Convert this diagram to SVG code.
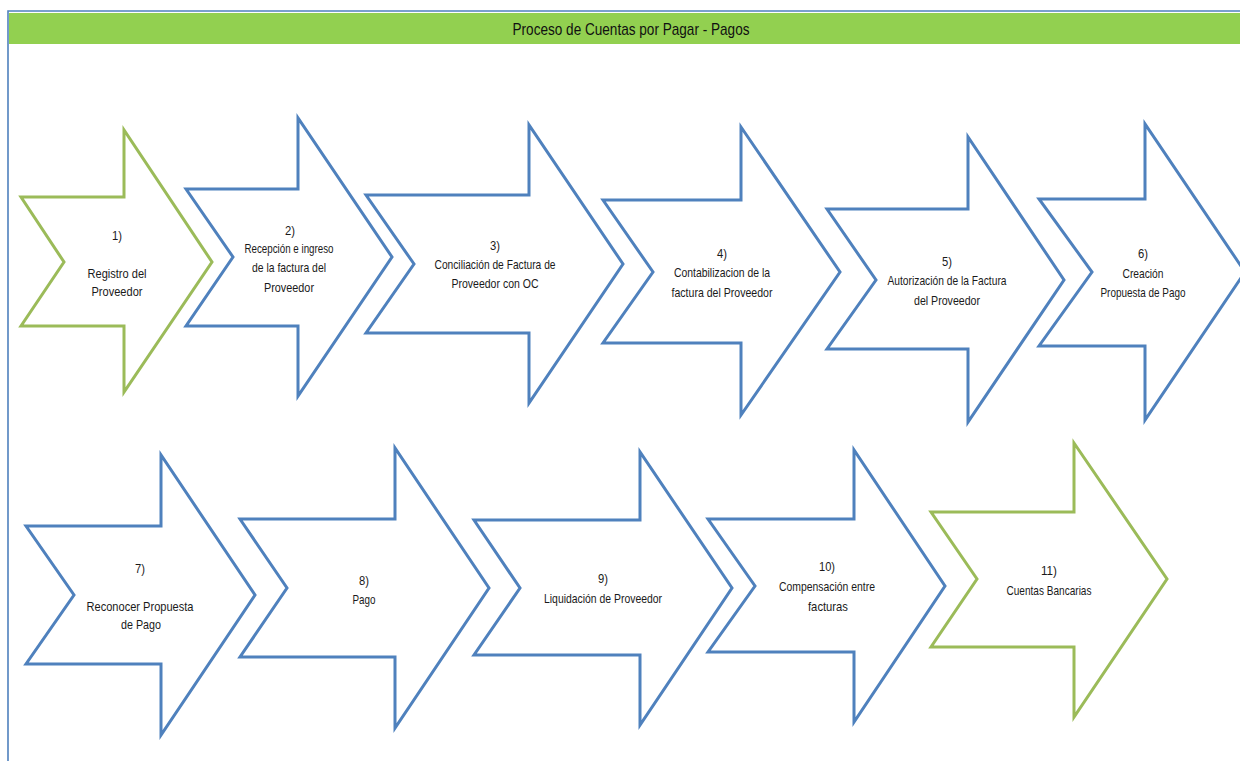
<svg xmlns="http://www.w3.org/2000/svg" width="1240" height="761" viewBox="0 0 1240 761">
  <style>
    .frame { fill: none; stroke: #4f81bd; stroke-width: 1.6; }
    .band { fill: #92d050; }
    .title { font-family: "Liberation Sans", Arial, sans-serif; font-size: 17px; fill: #111; text-anchor: middle; }
    .step { fill: #ffffff; stroke-width: 3; stroke-linejoin: miter; }
    .blue { stroke: #4f81bd; }
    .green { stroke: #9bbb59; }
    .lbl { font-family: "Liberation Sans", Arial, sans-serif; font-size: 13.5px; fill: #1a1a1a; text-anchor: middle; }
  </style>

  <rect width="1240" height="761" fill="#ffffff"/>

  <!-- sheet frame and header band -->
  <g id="header">
    <rect class="band" x="9" y="13" width="1231" height="31"/>
    <path class="frame" d="M8,761 V11 H1240"/>
    <text class="title" x="631" y="35" textLength="237" lengthAdjust="spacingAndGlyphs">Proceso de Cuentas por Pagar - Pagos</text>
  </g>

  <!-- process steps: notched block arrows -->
  <g id="connectors"></g>

  <g id="step1">
    <polygon class="step green" points="21,197 124,197 124,130 212,262 124,392 124,326 21,326 64,262"/>
    <text class="lbl" x="117" y="240" textLength="10" lengthAdjust="spacingAndGlyphs">1)</text>
    <text class="lbl" x="117" y="278" textLength="59" lengthAdjust="spacingAndGlyphs">Registro del</text>
    <text class="lbl" x="117" y="296" textLength="51" lengthAdjust="spacingAndGlyphs">Proveedor</text>
  </g>

  <g id="step2">
    <polygon class="step blue" points="186,189 298,189 298,118 392,257 298,396 298,326 186,326 233,257"/>
    <text class="lbl" x="290" y="235" textLength="10" lengthAdjust="spacingAndGlyphs">2)</text>
    <text class="lbl" x="289" y="253" textLength="89" lengthAdjust="spacingAndGlyphs">Recepción e ingreso</text>
    <text class="lbl" x="289" y="272" textLength="74" lengthAdjust="spacingAndGlyphs">de la factura del</text>
    <text class="lbl" x="289" y="292" textLength="50" lengthAdjust="spacingAndGlyphs">Proveedor</text>
  </g>

  <g id="step3">
    <polygon class="step blue" points="366,195 529,195 529,125 623,264 529,403 529,333 366,333 414,264"/>
    <text class="lbl" x="495" y="250" textLength="10" lengthAdjust="spacingAndGlyphs">3)</text>
    <text class="lbl" x="495" y="269" textLength="121" lengthAdjust="spacingAndGlyphs">Conciliación de Factura de</text>
    <text class="lbl" x="495" y="288" textLength="87" lengthAdjust="spacingAndGlyphs">Proveedor con OC</text>
  </g>

  <g id="step4">
    <polygon class="step blue" points="603,200 741,200 741,127 840,272 741,415 741,343 603,343 653,272"/>
    <text class="lbl" x="722" y="258" textLength="10" lengthAdjust="spacingAndGlyphs">4)</text>
    <text class="lbl" x="722" y="277" textLength="96" lengthAdjust="spacingAndGlyphs">Contabilizacion de la</text>
    <text class="lbl" x="722" y="297" textLength="101" lengthAdjust="spacingAndGlyphs">factura del Proveedor</text>
  </g>

  <g id="step5">
    <polygon class="step blue" points="827,209 968,209 968,137 1064,280 968,422 968,349 827,349 876,280"/>
    <text class="lbl" x="947" y="266" textLength="10" lengthAdjust="spacingAndGlyphs">5)</text>
    <text class="lbl" x="947" y="285" textLength="119" lengthAdjust="spacingAndGlyphs">Autorización de la Factura</text>
    <text class="lbl" x="947" y="305" textLength="66" lengthAdjust="spacingAndGlyphs">del Proveedor</text>
  </g>

  <g id="step6">
    <polygon class="step blue" points="1039,199 1145,199 1145,124 1245,272 1145,420 1145,346 1039,346 1092,272"/>
    <text class="lbl" x="1143" y="258" textLength="10" lengthAdjust="spacingAndGlyphs">6)</text>
    <text class="lbl" x="1143" y="278" textLength="41" lengthAdjust="spacingAndGlyphs">Creación</text>
    <text class="lbl" x="1143" y="297" textLength="85" lengthAdjust="spacingAndGlyphs">Propuesta de Pago</text>
  </g>

  <g id="step7">
    <polygon class="step blue" points="26,526 161,526 161,455 255,595 161,735 161,664 26,664 74,595"/>
    <text class="lbl" x="140" y="573" textLength="10" lengthAdjust="spacingAndGlyphs">7)</text>
    <text class="lbl" x="140" y="611" textLength="107" lengthAdjust="spacingAndGlyphs">Reconocer Propuesta</text>
    <text class="lbl" x="141" y="629" textLength="40" lengthAdjust="spacingAndGlyphs">de Pago</text>
  </g>

  <g id="step8">
    <polygon class="step blue" points="240,519 395,519 395,448 489,588 395,728 395,657 240,657 287,588"/>
    <text class="lbl" x="364" y="585" textLength="10" lengthAdjust="spacingAndGlyphs">8)</text>
    <text class="lbl" x="364" y="604" textLength="23" lengthAdjust="spacingAndGlyphs">Pago</text>
  </g>

  <g id="step9">
    <polygon class="step blue" points="474,520 640,520 640,452 732,588 640,725 640,655 474,655 520,588"/>
    <text class="lbl" x="603" y="583" textLength="10" lengthAdjust="spacingAndGlyphs">9)</text>
    <text class="lbl" x="603" y="603" textLength="118" lengthAdjust="spacingAndGlyphs">Liquidación de Proveedor</text>
  </g>

  <g id="step10">
    <polygon class="step blue" points="708,519 854,519 854,450 945,586 854,722 854,652 708,652 755,586"/>
    <text class="lbl" x="827" y="571" textLength="16" lengthAdjust="spacingAndGlyphs">10)</text>
    <text class="lbl" x="827" y="591" textLength="96" lengthAdjust="spacingAndGlyphs">Compensación entre</text>
    <text class="lbl" x="828" y="611" textLength="40" lengthAdjust="spacingAndGlyphs">facturas</text>
  </g>

  <g id="step11">
    <polygon class="step green" points="931,512 1074,512 1074,443 1167,579 1074,717 1074,647 931,647 977,579"/>
    <text class="lbl" x="1049" y="575" textLength="16" lengthAdjust="spacingAndGlyphs">11)</text>
    <text class="lbl" x="1049" y="595" textLength="85" lengthAdjust="spacingAndGlyphs">Cuentas Bancarias</text>
  </g>
</svg>
